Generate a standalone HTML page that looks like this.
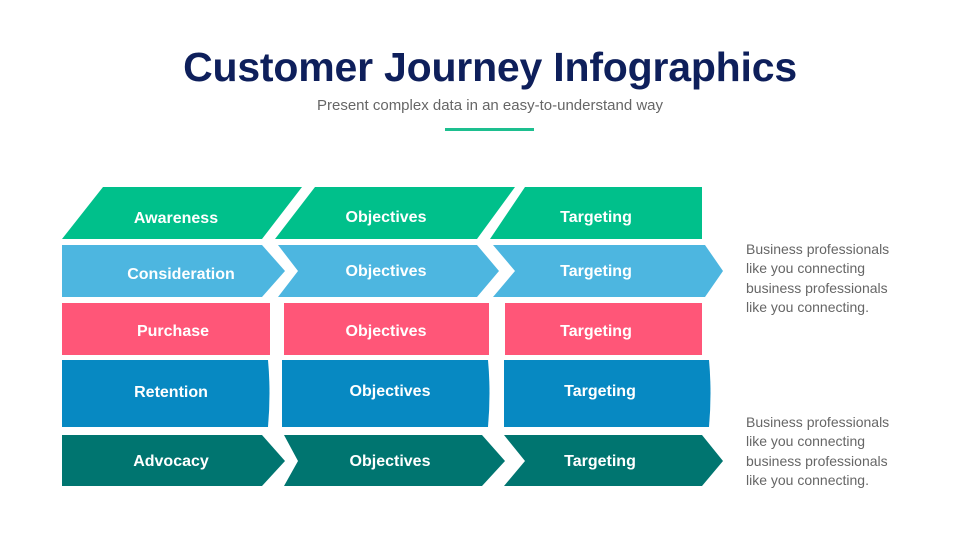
<!DOCTYPE html>
<html><head><meta charset="utf-8"><style>
body{margin:0;background:#fff;width:980px;height:551px;overflow:hidden;font-family:"Liberation Sans",sans-serif;}
.t{position:absolute;left:0;width:980px;text-align:center;}
</style></head><body>
<div class="t" style="top:44px;font-size:41px;font-weight:bold;color:#0e1f5b;letter-spacing:-0.2px;">Customer Journey Infographics</div>
<div class="t" style="top:97px;font-size:15px;color:#666;">Present complex data in an easy-to-understand way</div>
<div style="position:absolute;left:445px;top:128px;width:89px;height:3px;background:#1dbf8f;"></div>
<svg width="980" height="551" style="position:absolute;left:0;top:0" font-family="Liberation Sans, sans-serif" font-weight="bold" font-size="16" fill="#fff" text-anchor="middle">
<g fill="#00c08b">
<polygon points="103,187 302,187 262,239 62,239"/>
<polygon points="315,187 515,187 477,239 275,239"/>
<polygon points="525,187 702,187 702,239 490,239"/>
</g>
<g fill="#4db6e0">
<polygon points="62,245 262,245 285,271 262,297 62,297"/>
<polygon points="278,245 477,245 499,271 477,297 278,297 298,271"/>
<polygon points="493,245 705,245 723,271 705,297 493,297 515,271"/>
</g>
<g fill="#ff5678">
<rect x="62" y="303" width="208" height="52"/>
<rect x="284" y="303" width="205" height="52"/>
<rect x="505" y="303" width="197" height="52"/>
</g>
<g fill="#0789c2">
<path d="M62,360 H268 Q271,393 268,427 H62Z"/>
<path d="M282,360 H488 Q491,393 488,427 H282Z"/>
<path d="M504,360 H709 Q712,393 709,427 H504Z"/>
</g>
<g fill="#007570">
<polygon points="62,435 262,435 285,461 262,486 62,486"/>
<polygon points="284,435 482,435 505,461 482,486 284,486 298,461"/>
<polygon points="504,435 702,435 723,461 702,486 504,486 525,461"/>
</g>
<g fill="#fff">
<text x="176" y="223">Awareness</text><text x="386" y="222">Objectives</text><text x="596" y="222">Targeting</text>
<text x="181" y="279">Consideration</text><text x="386" y="276">Objectives</text><text x="596" y="276">Targeting</text>
<text x="173" y="336">Purchase</text><text x="386" y="336">Objectives</text><text x="596" y="336">Targeting</text>
<text x="171" y="397">Retention</text><text x="390" y="396">Objectives</text><text x="600" y="396">Targeting</text>
<text x="171" y="466">Advocacy</text><text x="390" y="466">Objectives</text><text x="600" y="466">Targeting</text>
</g>
<g fill="#666" font-weight="normal" font-size="14" text-anchor="start">
<text x="746" y="254">Business professionals</text>
<text x="746" y="273">like you connecting</text>
<text x="746" y="293">business professionals</text>
<text x="746" y="312">like you connecting.</text>
<text x="746" y="427">Business professionals</text>
<text x="746" y="446">like you connecting</text>
<text x="746" y="466">business professionals</text>
<text x="746" y="485">like you connecting.</text>
</g>
</svg>
</body></html>
